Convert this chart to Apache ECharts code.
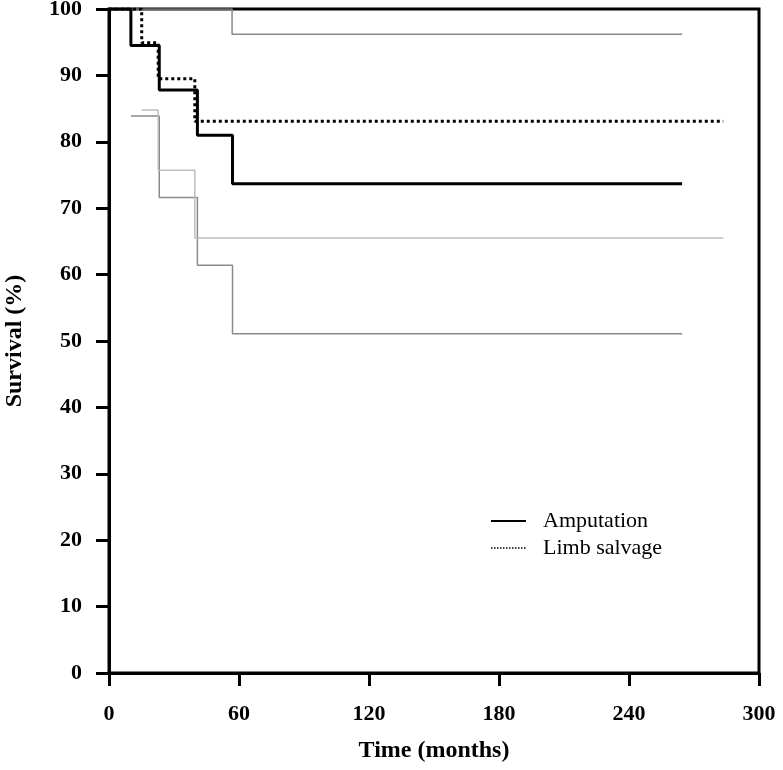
<!DOCTYPE html>
<html>
<head>
<meta charset="utf-8">
<script src="https://cdn.jsdelivr.net/npm/echarts@6/dist/echarts.min.js"></script>
<style>html,body{margin:0;padding:0;background:#fff;}#c{width:783px;height:770px;}</style>
</head>
<body>
<div id="c"></div>
<script>
// Amputation KM curve and 95% CI
var ampTime = [0, 10.1, 23.2, 40.8, 57.0, 264.5];
var ampSurv = [100, 94.5, 87.8, 81.0, 73.7, 73.7];
var ampLowerTime = [10.1, 23.2, 40.8, 57.0, 264.5];
var ampLower = [83.9, 71.6, 61.4, 51.1, 51.1];
var ampUpperTime = [0, 56.8, 264.5];
var ampUpper = [100, 96.2, 96.2];
// Limb salvage KM curve and lower CI
var limbTime = [0, 15.1, 22.7, 39.6, 283.5];
var limbSurv = [100, 94.9, 89.5, 83.1, 83.1];
var limbLowerTime = [15.1, 22.7, 39.6, 283.5];
var limbLower = [84.8, 75.7, 65.5, 65.5];

var xTicks = [0, 60, 120, 180, 240, 300];
var yTicks = [0, 10, 20, 30, 40, 50, 60, 70, 80, 90, 100];

function pairs(t, v) { return t.map(function (x, i) { return [x, v[i]]; }); }

var serif = "'Liberation Serif', 'DejaVu Serif', serif";
var chart = echarts.init(document.getElementById('c'));
chart.setOption({
  animation: false,
  color: ['#000'],
  grid: { left: 109, right: 24, top: 9, bottom: 97, outerBoundsMode: 'none', containLabel: false, show: true, borderColor: '#000', borderWidth: 3, backgroundColor: 'transparent' },
  legend: {
    orient: 'vertical', left: 485, top: 505, itemWidth: 35, itemHeight: 14, itemGap: 5,
    textStyle: { fontFamily: serif, fontSize: 22, color: '#000', padding: [0, 0, 0, 12] },
    itemStyle: { opacity: 0 },
    data: [
      { name: 'Amputation', itemStyle: { opacity: 0 }, lineStyle: { width: 2, type: 'solid', color: '#000' } },
      { name: 'Limb salvage', itemStyle: { opacity: 0 }, lineStyle: { width: 1.5, type: [1.5, 1.5], color: '#000' } }
    ]
  },
  xAxis: {
    type: 'value', min: xTicks[0], max: xTicks[xTicks.length - 1], interval: 60,
    name: 'Time (months)', nameLocation: 'middle', nameGap: 66,
    nameTextStyle: { fontFamily: serif, fontSize: 24, fontWeight: 'bold', color: '#000' },
    axisLine: { lineStyle: { color: '#000', width: 3 } },
    axisTick: { show: true, length: 13, lineStyle: { color: '#000', width: 3 } },
    axisLabel: { fontFamily: serif, fontSize: 22, fontWeight: 'bold', color: '#000', margin: 30 },
    splitLine: { show: false }
  },
  yAxis: {
    type: 'value', min: yTicks[0], max: yTicks[yTicks.length - 1], interval: 10,
    name: 'Survival (%)', nameLocation: 'middle', nameGap: 82, nameRotate: 90,
    nameTextStyle: { fontFamily: serif, fontSize: 24, fontWeight: 'bold', color: '#000' },
    axisLine: { show: true, lineStyle: { color: '#000', width: 3 } },
    axisTick: { show: true, length: 13, lineStyle: { color: '#000', width: 3 } },
    axisLabel: { fontFamily: serif, fontSize: 22, fontWeight: 'bold', color: '#000', margin: 27 },
    splitLine: { show: false }
  },
  series: [
    { name: 'ampUpper', type: 'line', step: 'end', symbol: 'none', data: pairs(ampUpperTime, ampUpper), lineStyle: { color: '#8a8a8a', width: 1.5 }, z: 2 },
    { name: 'ampLower', type: 'line', step: 'end', symbol: 'none', data: pairs(ampLowerTime, ampLower), lineStyle: { color: '#8a8a8a', width: 1.5 }, z: 2 },
    { name: 'limbLower', type: 'line', step: 'end', symbol: 'none', data: pairs(limbLowerTime, limbLower), lineStyle: { color: '#bdbdbd', width: 1.5 }, z: 2 },
    { name: 'Limb salvage', type: 'line', step: 'end', symbol: 'none', itemStyle: { color: '#000' }, data: pairs(limbTime, limbSurv), lineStyle: { color: '#000', width: 3, type: [3, 3], cap: 'butt' }, z: 3 },
    { name: 'Amputation', type: 'line', step: 'end', symbol: 'none', itemStyle: { color: '#000' }, data: pairs(ampTime, ampSurv), lineStyle: { color: '#000', width: 3 }, z: 4 }
  ]
});
</script>
</body>
</html>
